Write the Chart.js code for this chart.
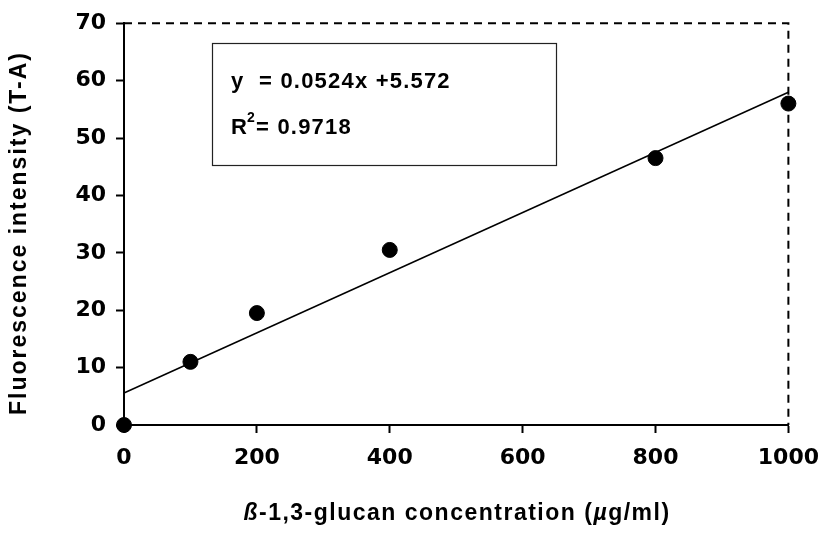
<!DOCTYPE html>
<html>
<head>
<meta charset="utf-8">
<script src="https://cdn.jsdelivr.net/npm/chart.js@4.4.1/dist/chart.umd.min.js"></script>
<style>
  html, body { margin: 0; padding: 0; background: #fff; }
  #wrap { width: 831px; height: 538px; }
</style>
</head>
<body>
<div id="wrap"><canvas id="chart"></canvas></div>
<script>
const concentrations = [0, 100, 200, 400, 800, 1000];
const intensities = [0, 11, 19.5, 30.5, 46.5, 56];
const trendX = [0, 1000];
const trendY = [5.572, 57.972];
const xTicks = [0, 200, 400, 600, 800, 1000];
const yTicks = [0, 10, 20, 30, 40, 50, 60, 70];
const equationText = "y  = 0.0524x +5.572";
const r2Value = "= 0.9718";

const FONT = "'Liberation Sans', Arial, sans-serif";

const overlay = {
  id: "overlay",
  afterDraw(chart) {
    const { ctx, chartArea: a } = chart;
    ctx.save();

    // dashed frame on top and right
    ctx.strokeStyle = "#000";
    ctx.lineWidth = 2;
    ctx.setLineDash([8, 6]);
    ctx.beginPath();
    ctx.moveTo(a.left, a.top);
    ctx.lineTo(a.right, a.top);
    ctx.lineTo(a.right, a.bottom);
    ctx.stroke();
    ctx.setLineDash([]);

    // equation box
    ctx.lineWidth = 1.2;
    ctx.strokeStyle = "#222";
    ctx.strokeRect(212.5, 43.5, 344, 122);
    ctx.fillStyle = "#000";
    ctx.textBaseline = "alphabetic";
    ctx.textAlign = "left";
    ctx.letterSpacing = "1.2px";
    ctx.font = "bold 22px " + FONT;
    ctx.fillText(equationText, 231, 88);
    ctx.fillText("R", 231, 134);
    const rw = ctx.measureText("R").width;
    ctx.font = "bold 14px " + FONT;
    ctx.fillText("2", 230 + rw, 122);
    const sw = ctx.measureText("2").width;
    ctx.font = "bold 22px " + FONT;
    ctx.fillText(r2Value, 230 + rw + sw, 134);

    // y title
    ctx.save();
    ctx.translate(26, 233);
    ctx.rotate(-Math.PI / 2);
    ctx.textAlign = "center";
    ctx.letterSpacing = "2px";
    ctx.font = "bold 23px " + FONT;
    ctx.fillText("Fluorescence intensity (T-A)", 0, 0);
    ctx.restore();

    // x title with italic beta and mu
    ctx.letterSpacing = "1.5px";
    const parts = [
      ["ß", "italic bold 23px "],
      ["-1,3-glucan concentration (", "bold 23px "],
      ["µ", "italic bold 23px "],
      ["g/ml)", "bold 23px "],
    ];
    let total = 0;
    parts.forEach(([t, f]) => { ctx.font = f + FONT; total += ctx.measureText(t).width; });
    let x = 457 - total / 2;
    parts.forEach(([t, f]) => {
      ctx.font = f + FONT;
      ctx.fillText(t, x, 520);
      x += ctx.measureText(t).width;
    });

    ctx.restore();
  },
};

const tickFont = { family: "'DejaVu Sans', sans-serif", size: 22, weight: "bold" };

new Chart(document.getElementById("chart"), {
  type: "scatter",
  data: {
    datasets: [
      {
        label: "Trend",
        data: trendX.map((x, i) => ({ x, y: trendY[i] })),
        showLine: true,
        borderColor: "#000",
        borderWidth: 1.5,
        pointRadius: 0,
        clip: false,
      },
      {
        label: "Measured",
        data: concentrations.map((x, i) => ({ x, y: intensities[i] })),
        backgroundColor: "#000",
        borderColor: "#000",
        pointRadius: 7.5,
        clip: false,
      },
    ],
  },
  options: {
    responsive: true,
    maintainAspectRatio: false,
    animation: false,
    layout: { padding: { left: 0, right: 37, top: 23, bottom: 0 } },
    plugins: {
      legend: { display: false },
      tooltip: { enabled: false },
    },
    scales: {
      x: {
        type: "linear",
        min: 0,
        max: 1000,
        afterFit(scale) { scale.height = 113; },
        afterBuildTicks(scale) { scale.ticks = xTicks.map((v) => ({ value: v })); },
        ticks: { color: "#000", font: tickFont, padding: 12, callback: (v) => String(v) },
        grid: { drawOnChartArea: false, drawTicks: true, tickLength: 8, tickColor: "#000", tickWidth: 2 },
        border: { color: "#000", width: 2 },
      },
      y: {
        min: 0,
        max: 70,
        afterFit(scale) { scale.width = 124; },
        afterBuildTicks(scale) { scale.ticks = yTicks.map((v) => ({ value: v })); },
        ticks: { color: "#000", font: tickFont, padding: 10, callback: (v) => String(v) },
        grid: { drawOnChartArea: false, drawTicks: true, tickLength: 8, tickColor: "#000", tickWidth: 2 },
        border: { color: "#000", width: 2 },
      },
    },
  },
  plugins: [overlay],
});
</script>
</body>
</html>
